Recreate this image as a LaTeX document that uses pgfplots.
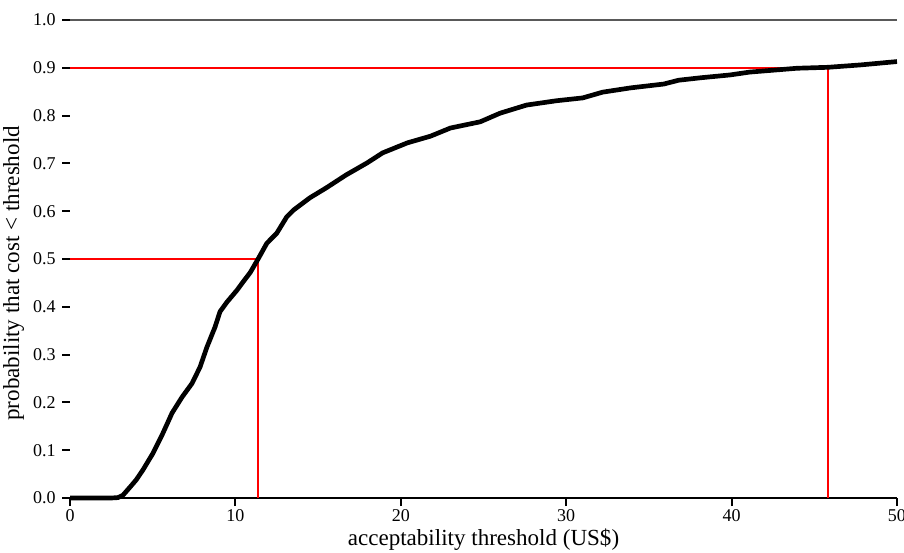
\documentclass[border=0pt]{standalone}
\usepackage{fontspec}
\setmainfont{Liberation Serif}
\usepackage{pgfplots}
\pgfplotsset{compat=1.18}

\begin{document}
\begin{tikzpicture}
  \begin{axis}[
      name=ax,
      scale only axis,
      width=459.4pt, height=265.6pt,
      xmin=0, xmax=50, ymin=0, ymax=1,
      axis x line*=bottom, axis y line*=left,
      y axis line style={draw=none},
      x axis line style={line width=1.1pt, -},
      xtick={0,10,...,50},
      ytick={0,0.1,...,1.0},
      yticklabel style={/pgf/number format/fixed, /pgf/number format/fixed zerofill, /pgf/number format/precision=1},
      /pgf/number format/assume math mode=true,
      tick align=outside,
      major tick length=4.4pt,
      tick style={line width=1.1pt, black},
      ticklabel style={font=\fontsize{10}{12}\selectfont},
      xticklabel style={yshift=-1pt, text depth=0pt, inner sep=1pt},
      xlabel={acceptability threshold (US\$)},
      ylabel={probability that cost < threshold},
      label style={font=\fontsize{12.8}{14}\selectfont},
      xlabel style={at={(axis description cs:0.5,0)}, yshift=-16pt, anchor=north, inner sep=1pt},
      ylabel style={at={(axis description cs:0,0.47)}, yshift=22pt},
      clip=false,
    ]
    % reference line at 1.0
    \addplot[color=black!65, line width=0.9pt] coordinates {(0,1) (50,1)};
    % median and 90th percentile
    \addplot[red, line width=1.1pt] coordinates {(0,0.5) (11.37,0.5) (11.37,0)};
    \addplot[red, line width=1.1pt] coordinates {(0,0.9) (45.83,0.9) (45.83,0)};
    % cost-effectiveness acceptability curve
    \addplot[black, line width=2.6pt, line join=round] coordinates {
      (0,0) (2.4,0) (2.9,0.001) (3.2,0.006) (3.63,0.023) (4.0,0.038) (4.41,0.059)
      (5.02,0.094) (5.62,0.136) (6.17,0.178) (6.77,0.211) (7.38,0.24)
      (7.86,0.274) (8.28,0.316) (8.77,0.358) (9.07,0.39) (9.49,0.410)
      (10.1,0.435) (10.46,0.452) (10.9,0.472) (11.37,0.5) (11.9,0.533)
      (12.5,0.554) (13.1,0.588) (13.5,0.602) (14.5,0.628) (15.5,0.649)
      (16.7,0.676) (17.96,0.701) (18.9,0.722) (20.4,0.743) (21.8,0.757)
      (23.0,0.774) (24.8,0.787) (26.0,0.805) (27.6,0.822) (29.4,0.831)
      (31.0,0.837) (32.2,0.849) (33.9,0.858) (35.9,0.866) (36.8,0.874)
      (38.1,0.879) (39.9,0.885) (41.1,0.891) (43.95,0.899) (45.83,0.901)
      (47.8,0.906) (50,0.913)
    };
  \end{axis}
  \pgfresetboundingbox
  \path ([shift={(-38.9pt,-30pt)}]ax.south west) rectangle ([shift={(3.9pt,11.1pt)}]ax.north east);
\end{tikzpicture}
\end{document}
